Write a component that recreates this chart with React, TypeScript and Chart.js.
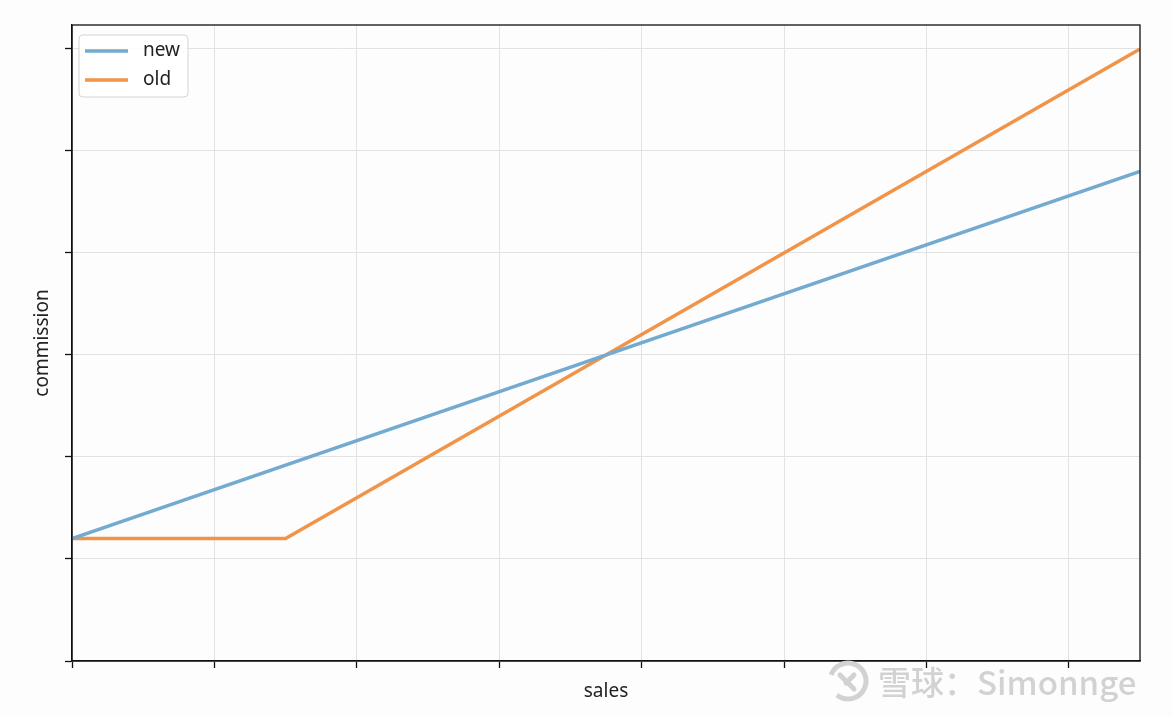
import React, { useEffect, useRef } from "react";
import { Chart, registerables } from "chart.js";

Chart.register(...registerables);

const seriesNames = ["new", "old"];
const newX = [0, 7.5];
const newY = [1.2, 4.8];
const oldX = [0, 1.5, 7.5];
const oldY = [1.2, 1.2, 6.0];
const xTitle = "sales";
const yTitle = "commission";
const watermarkText = "雪球：Simonnge";

const BLUE = "#72abcf";
const ORANGE = "#f0944a";
const FONT = "'Noto Sans', 'DejaVu Sans', sans-serif";

const boxPlugin = {
  id: "boxAndLegend",
  afterDraw(chart: any) {
    const { ctx, chartArea } = chart;
    ctx.save();
    ctx.strokeStyle = "#111";
    ctx.lineWidth = 1.3;
    ctx.strokeRect(chartArea.left, chartArea.top, chartArea.right - chartArea.left, chartArea.bottom - chartArea.top);
    // legend
    const lx = chartArea.left + 7;
    const ly = chartArea.top + 10;
    const w = 109;
    const h = 62;
    ctx.beginPath();
    ctx.roundRect(lx, ly, w, h, 4);
    ctx.fillStyle = "rgba(255,255,255,0.85)";
    ctx.fill();
    ctx.strokeStyle = "#d4d4d4";
    ctx.lineWidth = 1;
    ctx.stroke();
    ctx.font = `19px ${FONT}`;
    ctx.textBaseline = "middle";
    chart.data.datasets.forEach((ds: any, i: number) => {
      const y = ly + 16 + i * 29;
      ctx.beginPath();
      ctx.moveTo(lx + 6, y);
      ctx.lineTo(lx + 49, y);
      ctx.strokeStyle = ds.borderColor;
      ctx.lineWidth = 3.5;
      ctx.stroke();
      ctx.fillStyle = "#222";
      ctx.fillText(ds.label, lx + 64, y);
    });
    ctx.restore();
  },
};

export default function App() {
  const ref = useRef<HTMLCanvasElement>(null);
  useEffect(() => {
    const chart = new Chart(ref.current!, {
      type: "line",
      data: {
        datasets: [
          {
            label: seriesNames[0],
            data: newX.map((x, i) => ({ x, y: newY[i] })),
            borderColor: BLUE,
            borderWidth: 3.5,
            pointRadius: 0,
            tension: 0,
          },
          {
            label: seriesNames[1],
            data: oldX.map((x, i) => ({ x, y: oldY[i] })),
            borderColor: ORANGE,
            borderWidth: 3.5,
            pointRadius: 0,
            tension: 0,
          },
        ],
      },
      options: {
        animation: false,
        responsive: false,
        layout: { padding: { top: 25, right: 32, left: 0, bottom: 0 } },
        plugins: { legend: { display: false }, tooltip: { enabled: false } },
        scales: {
          x: {
            type: "linear",
            min: 0,
            max: 7.5,
            ticks: { stepSize: 1, display: false, includeBounds: false },
            grid: { color: "#e2e2e2", lineWidth: 1, drawTicks: true, tickLength: 7, tickColor: "#111", tickWidth: 1.3 },
            border: { color: "#111", width: 1.3 },
            title: { display: true, text: xTitle, font: { family: FONT, size: 19 }, color: "#222", padding: { bottom: 14, top: 0 } },
            afterFit: (s: any) => { s.height = 56; },
          },
          y: {
            min: 0,
            max: 6.235,
            ticks: { stepSize: 1, display: false, includeBounds: false },
            grid: { color: "#e2e2e2", lineWidth: 1, drawTicks: true, tickLength: 7, tickColor: "#111", tickWidth: 1.3 },
            border: { color: "#111", width: 1.3 },
            title: { display: true, text: yTitle, font: { family: FONT, size: 19 }, color: "#222", padding: { top: 31, bottom: 0 } },
            afterFit: (s: any) => { s.width = 72; },
          },
        },
      },
      plugins: [boxPlugin],
    } as any);
    return () => chart.destroy();
  }, []);
  return (
    <div style={{ position: "fixed", left: 0, top: 0, width: 1172, height: 717, background: "#fdfdfd" }}>
      <canvas ref={ref} width={1172} height={717} style={{ display: "block" }} />
      <div
        style={{
          position: "absolute",
          left: 826,
          top: 657,
          height: 48,
          display: "flex",
          alignItems: "center",
          color: "#d2d2d2",
          fontFamily: "'Noto Sans CJK SC', 'Noto Sans', sans-serif",
          fontWeight: 500,
          fontSize: 33,
          whiteSpace: "nowrap",
          textShadow: "0 0 2px #fff",
        }}
      >
        <svg width="44" height="44" viewBox="0 0 44 44" style={{ marginRight: 8 }}>
          <circle cx="22" cy="22" r="18" fill="none" stroke="#d2d2d2" strokeWidth="5" strokeDasharray="90 23" transform="rotate(200 22 22)" />
          <path d="M14 16 L28 30 M28 16 L20 24" stroke="#d2d2d2" strokeWidth="5" fill="none" strokeLinecap="round" />
        </svg>
        <span>{watermarkText}</span>
      </div>
    </div>
  );
}
